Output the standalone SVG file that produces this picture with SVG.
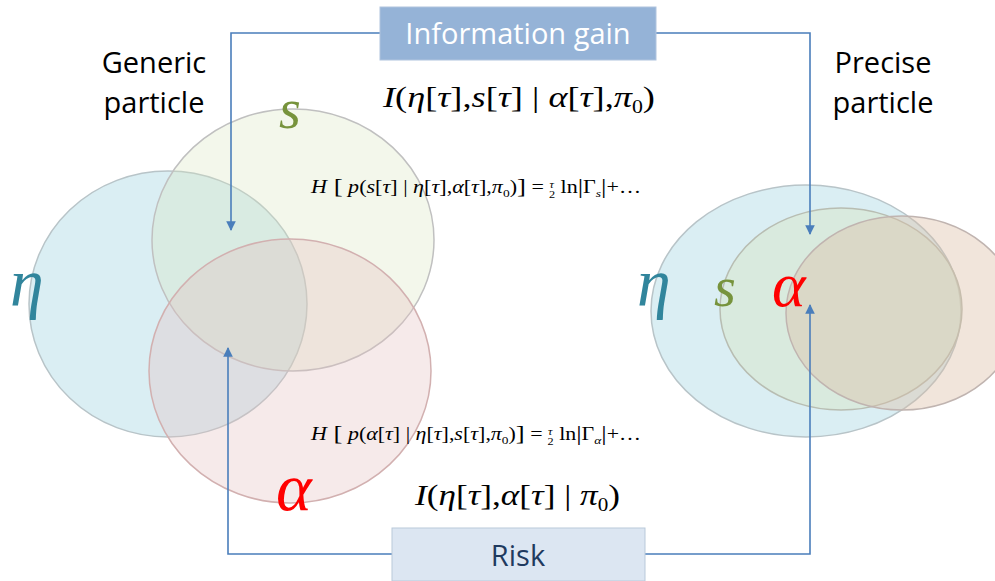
<svg xmlns="http://www.w3.org/2000/svg" width="995" height="581" viewBox="0 0 995 581">
<style>
.lbl{font-family:"Open Sans","Liberation Sans",sans-serif;font-size:29px;fill:#000;text-anchor:middle}
.math{font-family:"Liberation Serif","Times New Roman",serif;fill:#000}
.it{font-style:italic}
.big{font-family:"Liberation Serif","Times New Roman",serif;font-style:italic;font-weight:normal}
.conn{fill:none;stroke:#4a7ebb;stroke-width:1.6}
</style>
<defs>
<marker id="ah" viewBox="0 0 10 10" refX="9" refY="5" markerWidth="6" markerHeight="6" orient="auto-start-reverse" markerUnits="strokeWidth">
<path d="M0,0 L10,5 L0,10 z" fill="#4a7ebb"/>
</marker>
</defs>
<rect width="995" height="581" fill="#fff"/>

<g id="generic-eta-circle"><ellipse cx="168" cy="304" rx="139" ry="133" fill="#b6dde8" fill-opacity="0.5" stroke="#b8c4c8" stroke-width="1.5"/></g>
<g id="generic-s-circle"><ellipse cx="293" cy="240" rx="141" ry="131" fill="#d7e4bd" fill-opacity="0.3" stroke="#c0c0c0" stroke-width="1.5"/></g>
<g id="generic-alpha-circle"><ellipse cx="290" cy="371" rx="141" ry="132" fill="#e2bfbf" fill-opacity="0.32" stroke="#d2b0b0" stroke-width="1.5"/></g>

<g id="precise-eta-circle"><ellipse cx="806" cy="311" rx="155" ry="126" fill="#b6dde8" fill-opacity="0.5" stroke="#b8c4c8" stroke-width="1.5"/></g>
<g id="precise-s-circle"><ellipse cx="841" cy="309" rx="121" ry="101" fill="#d7e4bd" fill-opacity="0.4" stroke="#b8bdb2" stroke-width="1.5"/></g>
<g id="precise-alpha-circle"><ellipse cx="902" cy="313" rx="116" ry="97" fill="#dcbda4" fill-opacity="0.4" stroke="#c0b4b0" stroke-width="1.5"/></g>

<g id="connectors">
<polyline class="conn" points="380,33 231,33 231,230" marker-end="url(#ah)"/>
<polyline class="conn" points="656,33 810,33 810,234" marker-end="url(#ah)"/>
<polyline class="conn" points="392,554 228,554 228,348" marker-end="url(#ah)"/>
<polyline class="conn" points="645,554 810,554 810,305" marker-end="url(#ah)"/>
</g>

<g id="info-gain">
<rect x="380" y="7" width="276" height="53" fill="#95b3d7" stroke="#b0c4de" stroke-width="1"/>
<text x="518" y="44" font-family="'Open Sans','Liberation Sans',sans-serif" font-size="29" fill="#fff" text-anchor="middle">Information gain</text>
</g>
<g id="risk">
<rect x="392" y="528" width="253" height="53" fill="#dce6f2" stroke="#b9c9da" stroke-width="1"/>
<text x="518" y="566" font-family="'Open Sans','Liberation Sans',sans-serif" font-size="29" fill="#1f3a5f" text-anchor="middle">Risk</text>
</g>

<g id="generic-label"><text class="lbl" x="154" y="73">Generic</text><text class="lbl" x="154" y="113">particle</text></g>
<g id="precise-label"><text class="lbl" x="883" y="73">Precise</text><text class="lbl" x="883" y="113">particle</text></g>

<g id="var-labels" font-family="'Liberation Serif','Times New Roman',serif" font-style="italic">
<text x="10" y="306" font-size="68" fill="#31859c">η</text>
<text x="279" y="128" font-size="56" fill="#77933c">s</text>
<text x="276" y="510" font-size="68" fill="#ff0000">α</text>
<text x="637" y="306" font-size="68" fill="#31859c">η</text>
<text x="714" y="306" font-size="56" fill="#77933c">s</text>
<text x="772" y="306" font-size="64" fill="#ff0000">α</text>
</g>

<g id="formulas">
<text class="math" x="383" y="107" font-size="30" textLength="272" lengthAdjust="spacingAndGlyphs"><tspan class="it">I</tspan>(<tspan class="it">η</tspan>[<tspan class="it">τ</tspan>],<tspan class="it">s</tspan>[<tspan class="it">τ</tspan>] | <tspan class="it">α</tspan>[<tspan class="it">τ</tspan>],<tspan class="it">π</tspan><tspan font-size="18" dy="6">0</tspan><tspan dy="-6">)</tspan></text>
<text class="math" x="311" y="193" font-size="18" textLength="330" lengthAdjust="spacingAndGlyphs"><tspan class="it">H</tspan><tspan font-size="22"> [</tspan> <tspan class="it">p</tspan>(<tspan class="it">s</tspan>[<tspan class="it">τ</tspan>] | <tspan class="it">η</tspan>[<tspan class="it">τ</tspan>],<tspan class="it">α</tspan>[<tspan class="it">τ</tspan>],<tspan class="it">π</tspan><tspan font-size="11" dy="4">0</tspan><tspan dy="-4">)</tspan><tspan font-size="22">]</tspan> = <tspan font-size="10" class="it" dy="-5">τ</tspan><tspan font-size="10" dx="-4" dy="10">2</tspan><tspan dy="-5"> ln</tspan><tspan font-size="22">|</tspan>Γ<tspan font-size="11" class="it" dy="4">s</tspan><tspan dy="-4" font-size="22">|</tspan>+…</text>
<text class="math" x="311" y="440" font-size="18" textLength="330" lengthAdjust="spacingAndGlyphs"><tspan class="it">H</tspan><tspan font-size="22"> [</tspan> <tspan class="it">p</tspan>(<tspan class="it">α</tspan>[<tspan class="it">τ</tspan>] | <tspan class="it">η</tspan>[<tspan class="it">τ</tspan>],<tspan class="it">s</tspan>[<tspan class="it">τ</tspan>],<tspan class="it">π</tspan><tspan font-size="11" dy="4">0</tspan><tspan dy="-4">)</tspan><tspan font-size="22">]</tspan> = <tspan font-size="10" class="it" dy="-5">τ</tspan><tspan font-size="10" dx="-4" dy="10">2</tspan><tspan dy="-5"> ln</tspan><tspan font-size="22">|</tspan>Γ<tspan font-size="11" class="it" dy="4">α</tspan><tspan dy="-4" font-size="22">|</tspan>+…</text>
<text class="math" x="415" y="505" font-size="30" textLength="205" lengthAdjust="spacingAndGlyphs"><tspan class="it">I</tspan>(<tspan class="it">η</tspan>[<tspan class="it">τ</tspan>],<tspan class="it">α</tspan>[<tspan class="it">τ</tspan>] | <tspan class="it">π</tspan><tspan font-size="18" dy="6">0</tspan><tspan dy="-6">)</tspan></text>
</g>
</svg>
